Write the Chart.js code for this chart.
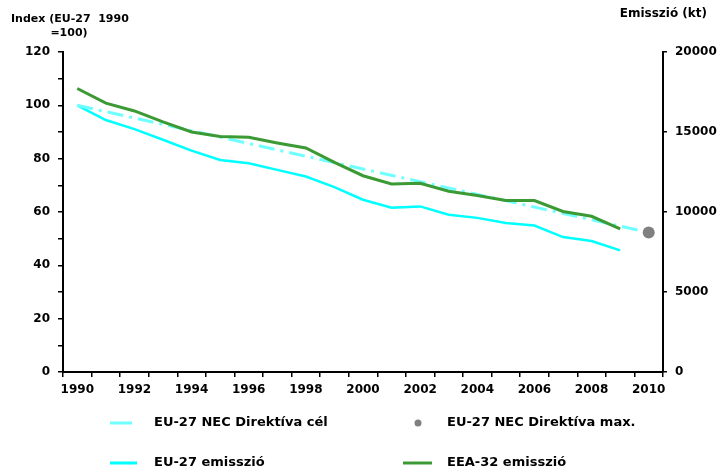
<!DOCTYPE html>
<html lang="hu">
<head>
<meta charset="UTF-8">
<title>NEC emisszió</title>
<script src="https://cdn.jsdelivr.net/npm/chart.js"></script>
<style>
    body { margin: 0; background: #fff; }
    #doboz { width: 719px; height: 470px; }
</style>
</head>
<body>

<div id="doboz">
    <canvas id="grafico" width="719" height="470"></canvas>
</div>

<script>
// adatok - leolvasva az abrarol
const evek = ['1990', '1991', '1992', '1993', '1994', '1995', '1996', '1997', '1998', '1999', '2000',
              '2001', '2002', '2003', '2004', '2005', '2006', '2007', '2008', '2009', '2010'];

const eu27Emisszio = [100, 94.5, 91.1, 87.1, 83.0, 79.5, 78.3, 75.8, 73.3, 69.3, 64.6,
                      61.6, 62.1, 59.0, 57.8, 55.9, 54.9, 50.6, 49.1, 45.6, null];

const eea32Emisszio = [106.3, 100.8, 97.9, 93.8, 90.0, 88.3, 88.0, 85.9, 84.0, 78.6, 73.6,
                       70.5, 70.8, 67.8, 66.2, 64.3, 64.3, 60.2, 58.4, 53.7, null];

// NEC cel: csak a kezdo es a vegpont ismert
const necCel = [100, null, null, null, null, null, null, null, null, null, null,
                null, null, null, null, null, null, null, null, null, 52.3];

const necMax = [null, null, null, null, null, null, null, null, null, null, null,
                null, null, null, null, null, null, null, null, null, 52.3];

const indexTicks = [0, 20, 40, 60, 80, 100, 120];
const ktTicks = [0, 5000, 10000, 15000, 20000];

const betu = '"DejaVu Sans", Verdana, sans-serif';

// tengelyfeliratok + jelmagyarazat kezzel rajzolva
const feliratok = {
    id: 'feliratok',
    afterDraw(chart) {
        const ctx = chart.ctx;
        ctx.save();
        ctx.fillStyle = '#000';
        ctx.textBaseline = 'middle';

        ctx.font = 'bold 11px ' + betu;
        ctx.textAlign = 'left';
        ctx.fillText('Index (EU-27  1990', 11, 19);
        ctx.textAlign = 'center';
        ctx.fillText('=100)', 69, 33);

        ctx.font = 'bold 12px ' + betu;
        ctx.textAlign = 'right';
        ctx.fillText('Emisszió (kt)', 707, 14);

        // jelmagyarazat
        const ds = chart.data.datasets;
        const elemek = [
            { d: ds[2], x1: 110, x2: 132, y: 423, tx: 154 },
            { d: ds[3], x1: 418, x2: 418, y: 423, tx: 447, pont: true },
            { d: ds[0], x1: 110, x2: 137, y: 463, tx: 154 },
            { d: ds[1], x1: 403, x2: 432, y: 463, tx: 447 }
        ];
        ctx.font = 'bold 13px ' + betu;
        ctx.textAlign = 'left';
        elemek.forEach(function (e) {
            if (e.pont) {
                ctx.fillStyle = e.d.backgroundColor;
                ctx.beginPath();
                ctx.arc(e.x1, e.y, 3.5, 0, Math.PI * 2);
                ctx.fill();
            } else {
                ctx.strokeStyle = e.d.borderColor;
                ctx.lineWidth = 3;
                ctx.beginPath();
                ctx.moveTo(e.x1, e.y);
                ctx.lineTo(e.x2, e.y);
                ctx.stroke();
            }
            ctx.fillStyle = '#000';
            ctx.fillText(e.d.label, e.tx, e.y);
        });
        ctx.restore();
    }
};

const dados = {
    labels: evek,
    datasets: [
        {
            label: 'EU-27 emisszió',
            data: eu27Emisszio,
            borderColor: '#00ffff',
            borderWidth: 2.5,
            pointRadius: 0,
            tension: 0,
            yAxisID: 'y',
            order: 4
        },
        {
            label: 'EEA-32 emisszió',
            data: eea32Emisszio,
            borderColor: '#3b9a34',
            borderWidth: 3,
            pointRadius: 0,
            tension: 0,
            yAxisID: 'y',
            order: 2
        },
        {
            label: 'EU-27 NEC Direktíva cél',
            data: necCel,
            borderColor: '#70ffff',
            borderWidth: 3,
            borderDash: [16, 6, 3, 6],
            pointRadius: 0,
            spanGaps: true,
            yAxisID: 'y',
            order: 3
        },
        {
            label: 'EU-27 NEC Direktíva max.',
            data: necMax,
            showLine: false,
            backgroundColor: '#808080',
            borderColor: '#808080',
            pointRadius: 6,
            pointBorderWidth: 0,
            yAxisID: 'y',
            order: 1
        }
    ]
};

const tickFont = { family: betu, size: 12, weight: 'bold' };

const config = {
    type: 'line',
    data: dados,
    options: {
        responsive: false,
        animation: false,
        layout: { padding: { top: 52, left: 0, right: 0, bottom: 0 } },
        plugins: {
            legend: { display: false },
            tooltip: { enabled: false }
        },
        scales: {
            x: {
                offset: true,
                grid: { display: true, offset: true, drawOnChartArea: false, tickLength: 5, color: '#000', lineWidth: 1.5 },
                border: { color: '#000', width: 2 },
                ticks: {
                    autoSkip: false,
                    maxRotation: 0,
                    padding: 6,
                    color: '#000',
                    font: tickFont,
                    callback: function (v, i) { return i % 2 === 0 ? evek[i] : ''; }
                },
                afterFit: function (s) { s.height = 98; }
            },
            y: {
                position: 'left',
                min: 0,
                max: 120,
                grid: { drawOnChartArea: false, tickLength: 5, color: '#000', lineWidth: 1.5 },
                border: { color: '#000', width: 2 },
                ticks: {
                    stepSize: 10,
                    padding: 8,
                    color: '#000',
                    font: tickFont,
                    callback: function (v) { return indexTicks.includes(v) ? v : ''; }
                },
                afterFit: function (s) { s.width = 63; }
            },
            y1: {
                position: 'right',
                min: 0,
                max: 20000,
                grid: { drawOnChartArea: false, tickLength: 4, color: '#000', lineWidth: 1.5 },
                border: { color: '#000', width: 2 },
                ticks: {
                    stepSize: 5000,
                    padding: 8,
                    color: '#000',
                    font: tickFont,
                    callback: function (v) { return ktTicks.includes(v) ? String(v) : ''; }
                },
                afterFit: function (s) { s.width = 56; }
            }
        }
    },
    plugins: [feliratok]
};

let myChart = new Chart(document.getElementById('grafico'), config);
</script>
</body>
</html>
